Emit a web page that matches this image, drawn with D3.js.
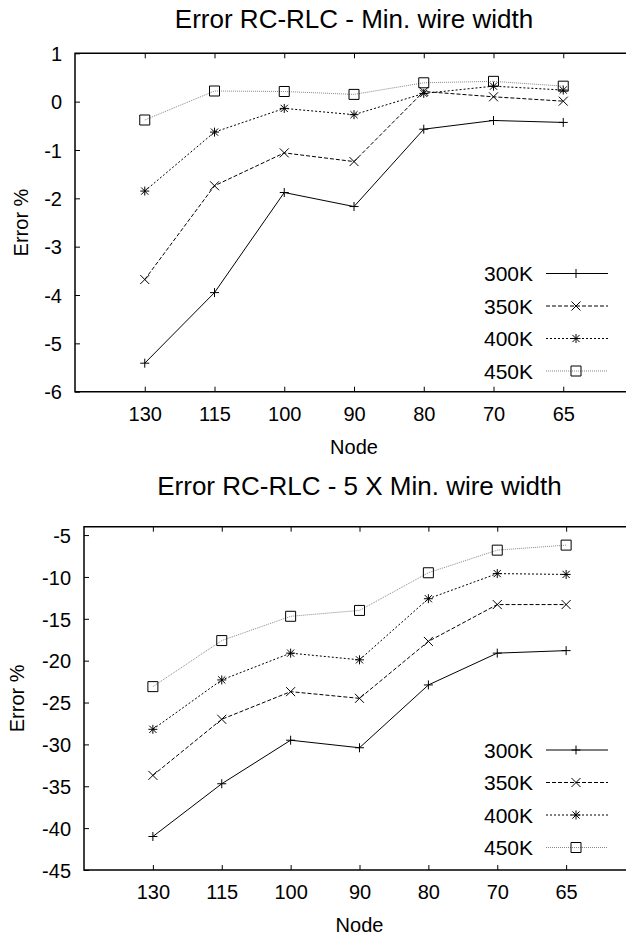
<!DOCTYPE html>
<html lang="en">
<head>
<meta charset="UTF-8">
<title>Error RC-RLC</title>
<script src="https://d3js.org/d3.v7.min.js"></script>
<style>
    body { margin: 0; background: #fff; }
    svg { font-family: "Liberation Sans", Arial, Helvetica, sans-serif; }
    .tick line { stroke: #000; }
    .tick text { font-size: 20px; fill: #000; }
    .title { font-size: 26px; }
    .label { font-size: 20px; }
    .legend { font-size: 21px; }
</style>
</head>
<body>
<div id="chart"></div>
<script>
// categories (x axis)
const nodes = ["130", "115", "100", "90", "80", "70", "65"];
const seriesNames = ["300K", "350K", "400K", "450K"];

// Min. wire width, error %
const minW300 = [-5.41, -3.95, -1.88, -2.17, -0.57, -0.39, -0.43];
const minW350 = [-3.68, -1.74, -1.06, -1.24, 0.21, 0.10, 0.01];
const minW400 = [-1.85, -0.63, -0.14, -0.27, 0.17, 0.32, 0.24];
const minW450 = [-0.38, 0.22, 0.21, 0.15, 0.39, 0.42, 0.32];

// 5 X Min. wire width, error %
const fiveW300 = [-41.0, -34.7, -29.5, -30.4, -22.9, -19.1, -18.8];
const fiveW350 = [-33.7, -27.0, -23.7, -24.5, -17.7, -13.3, -13.3];
const fiveW400 = [-28.2, -22.3, -19.1, -19.9, -12.6, -9.6, -9.7];
const fiveW450 = [-23.1, -17.6, -14.7, -14.0, -9.5, -6.8, -6.2];

const topTicks = [1, 0, -1, -2, -3, -4, -5, -6];
const bottomTicks = [-5, -10, -15, -20, -25, -30, -35, -40, -45];

// line style per series
const styles = {
    "300K": { stroke: "#000", dash: null, marker: "plus" },
    "350K": { stroke: "#000", dash: "4,2", marker: "times" },
    "400K": { stroke: "#000", dash: "2,2", marker: "star" },
    "450K": { stroke: "#888", dash: "1,1", marker: "square" }
};

function markerPath(type, r) {
    const p = `M${-r},0H${r}M0,${-r}V${r}`;
    const x = `M${-r},${-r}L${r},${r}M${-r},${r}L${r},${-r}`;
    if (type === "plus") return p;
    if (type === "times") return x;
    if (type === "star") {
        const k = r * 0.8;
        return p + `M${-k},${-k}L${k},${k}M${-k},${k}L${k},${-k}`;
    }
    return `M${-r},${-r}H${r}V${r}H${-r}Z`;
}

const svg = d3.select("#chart").append("svg")
    .attr("width", 626)
    .attr("height", 938);

function drawPanel(cfg) {
    const g = svg.append("g");

    const x = d3.scalePoint()
        .domain(nodes)
        .range([cfg.left, cfg.right])
        .padding(1);

    const y = d3.scaleLinear()
        .domain(cfg.yDomain)
        .range([cfg.bottom, cfg.top]);

    // bottom axis, ticks pointing inward
    g.append("g")
        .attr("transform", `translate(0,${cfg.bottom})`)
        .call(d3.axisBottom(x).tickSize(-5).tickSizeOuter(0).tickPadding(15))
        .call(a => a.select(".domain").remove());

    // mirrored ticks on top
    g.append("g")
        .attr("transform", `translate(0,${cfg.top})`)
        .call(d3.axisTop(x).tickSize(-5).tickSizeOuter(0).tickFormat(""))
        .call(a => a.select(".domain").remove());

    // left axis (plain hyphen for minus, like the original)
    g.append("g")
        .attr("transform", `translate(${cfg.left},0)`)
        .call(d3.axisLeft(y).tickValues(cfg.ticks).tickFormat(d => String(d))
            .tickSize(-5).tickSizeOuter(0).tickPadding(13))
        .call(a => a.select(".domain").remove())
        .call(a => a.selectAll(".tick text").attr("dy", "0.36em"));

    // frame
    g.append("path")
        .attr("d", `M${cfg.right},${cfg.top}H${cfg.left}V${cfg.bottom}H${cfg.right}V${cfg.top}`)
        .attr("fill", "none")
        .attr("stroke", "#000")
        .attr("stroke-width", 1.5);

    const line = d3.line()
        .x((d, i) => x(nodes[i]))
        .y(d => y(d));

    cfg.series.forEach((vals, si) => {
        const name = seriesNames[si];
        const st = styles[name];
        g.append("path")
            .datum(vals)
            .attr("d", line)
            .attr("fill", "none")
            .attr("stroke", st.stroke)
            .attr("stroke-width", 1)
            .attr("stroke-dasharray", st.dash);

        g.selectAll(null)
            .data(vals)
            .enter()
            .append("path")
            .attr("transform", (d, i) => `translate(${x(nodes[i])},${y(d)})`)
            .attr("d", markerPath(st.marker, st.marker === "square" ? 5 : 4.5))
            .attr("fill", "none")
            .attr("stroke", "#000")
            .attr("stroke-width", 1);
    });

    // legend
    const lg = g.append("g");
    seriesNames.forEach((name, i) => {
        const st = styles[name];
        const ly = cfg.legendTop + i * 32.5;
        lg.append("text")
            .attr("class", "legend")
            .attr("x", 533)
            .attr("y", ly)
            .attr("dy", "0.36em")
            .attr("text-anchor", "end")
            .text(name);
        lg.append("line")
            .attr("x1", 546).attr("x2", 608)
            .attr("y1", ly).attr("y2", ly)
            .attr("stroke", st.stroke)
            .attr("stroke-dasharray", st.dash);
        lg.append("path")
            .attr("transform", `translate(576,${ly})`)
            .attr("d", markerPath(st.marker, st.marker === "square" ? 5 : 4.5))
            .attr("fill", "none")
            .attr("stroke", "#000");
    });

    const cx = (cfg.left + cfg.right) / 2;
    g.append("text")
        .attr("class", "title")
        .attr("x", cx)
        .attr("y", cfg.titleY)
        .attr("text-anchor", "middle")
        .text(cfg.title);

    g.append("text")
        .attr("class", "label")
        .attr("x", cx)
        .attr("y", cfg.bottom + 62)
        .attr("text-anchor", "middle")
        .text("Node");

    g.append("text")
        .attr("class", "label")
        .attr("transform", `translate(${cfg.yLabelX},${(cfg.top + cfg.bottom) / 2}) rotate(-90)`)
        .attr("text-anchor", "middle")
        .attr("dy", "0.36em")
        .text("Error %");
}

drawPanel({
    title: "Error RC-RLC - Min. wire width",
    titleY: 28,
    left: 75, right: 633, top: 53.3, bottom: 391.7,
    yDomain: [-6, 1],
    ticks: topTicks,
    yLabelX: 21,
    legendTop: 273.5,
    series: [minW300, minW350, minW400, minW450]
});

drawPanel({
    title: "Error RC-RLC - 5 X Min. wire width",
    titleY: 495,
    left: 84, right: 635, top: 526.7, bottom: 870,
    yDomain: [-45, -4],
    ticks: bottomTicks,
    yLabelX: 17,
    legendTop: 750,
    series: [fiveW300, fiveW350, fiveW400, fiveW450]
});
</script>
</body>
</html>
